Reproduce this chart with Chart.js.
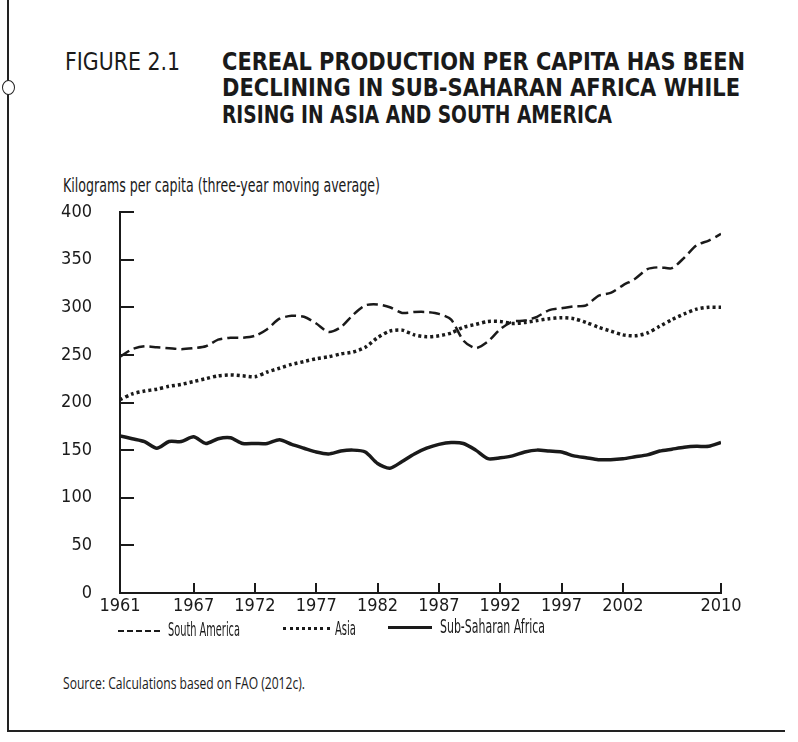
<!DOCTYPE html>
<html>
<head>
<meta charset="utf-8">
<script src="https://cdn.jsdelivr.net/npm/chart.js@4.4.1/dist/chart.umd.min.js"></script>
<style>
  html, body { margin: 0; padding: 0; background: #fff; }
  body { width: 798px; height: 742px; position: relative; overflow: hidden; color: #1a1a1a; }
  .t { position: absolute; white-space: nowrap; transform-origin: left center;
       font-family: 'Liberation Sans Narrow', 'DejaVu Sans Condensed', sans-serif; }
  .title { font-weight: bold; font-size: 25px; line-height: 28px; }
  .rule { position: absolute; background: #222; }
  .swatch { position: absolute; height: 0; }
  #wrap { position: absolute; left: 0; top: 200px; width: 798px; height: 423px; }
</style>
</head>
<body>
<div class="rule" style="left:7px; top:0; width:1.5px; height:732px;"></div>
<div class="rule" style="left:7px; top:730px; width:778px; height:1.5px;"></div>
<div style="position:absolute; left:2px; top:80px; width:11px; height:13px; border:1.5px solid #222; border-radius:50%; background:#fff;"></div>

<div class="t" data-w="115" style="left:65px; top:48px; font-size:24px; line-height:28px;">FIGURE 2.1</div>
<div class="t title" data-w="523" style="left:222px; top:48px;">CEREAL PRODUCTION PER CAPITA HAS BEEN</div>
<div class="t title" data-w="518" style="left:222px; top:74px;">DECLINING IN SUB-SAHARAN AFRICA WHILE</div>
<div class="t title" data-w="390" style="left:222px; top:101px;">RISING IN ASIA AND SOUTH AMERICA</div>

<div class="t" data-w="317" style="left:63px; top:172px; font-size:20px; line-height:26px;">Kilograms per capita (three-year moving average)</div>

<div id="wrap"><canvas id="chart" width="798" height="423"></canvas></div>

<div class="swatch" style="left:118px; top:630px; width:42px; border-top:2.5px dashed #1a1a1a;"></div>
<div class="t" data-w="72" style="left:168px; top:616px; font-size:20px; line-height:26px;">South America</div>
<div class="swatch" style="left:283px; top:627px; width:47px; border-top:3px dotted #1a1a1a;"></div>
<div class="t" data-w="21" style="left:335px; top:615px; font-size:20px; line-height:26px;">Asia</div>
<div class="swatch" style="left:388px; top:626px; width:44px; border-top:3.5px solid #1a1a1a;"></div>
<div class="t" data-w="105" style="left:440px; top:613px; font-size:20px; line-height:26px;">Sub-Saharan Africa</div>

<div class="t" data-w="242" style="left:63px; top:671px; font-size:17px; line-height:24px; font-family:'Open Sans','DejaVu Sans',sans-serif;">Source: Calculations based on FAO (2012c).</div>

<script>
// years on the x axis
const years = [1961, 1962, 1963, 1964, 1965, 1966, 1967, 1968, 1969, 1970,
  1971, 1972, 1973, 1974, 1975, 1976, 1977, 1978, 1979, 1980,
  1981, 1982, 1983, 1984, 1985, 1986, 1987, 1988, 1989, 1990,
  1991, 1992, 1993, 1994, 1995, 1996, 1997, 1998, 1999, 2000,
  2001, 2002, 2003, 2004, 2005, 2006, 2007, 2008, 2009, 2010];

// kilograms per capita, three-year moving average
const southAmerica = [248, 256, 259, 258, 257, 256, 257, 259, 266, 268,
  268, 270, 277, 288, 291, 290, 283, 274, 279, 292,
  302, 303, 300, 294, 295, 295, 293, 287, 265, 257,
  264, 277, 285, 286, 290, 297, 299, 301, 302, 312,
  315, 323, 330, 340, 342, 341, 352, 365, 370, 377];
const asia = [203, 209, 212, 214, 217, 219, 222, 225, 228, 229,
  228, 227, 232, 236, 240, 243, 246, 248, 251, 253,
  258, 268, 275, 276, 271, 269, 270, 273, 279, 282,
  285, 285, 283, 284, 286, 288, 289, 288, 284, 279,
  275, 271, 270, 273, 280, 287, 293, 298, 300, 300];
const subSaharanAfrica = [165, 162, 159, 152, 159, 159, 164, 157, 162, 163,
  157, 157, 157, 161, 156, 152, 148, 146, 149, 150,
  148, 136, 131, 138, 146, 152, 156, 158, 157, 150,
  141, 142, 144, 148, 150, 149, 148, 144, 142, 140,
  140, 141, 143, 145, 149, 151, 153, 154, 154, 158];

const xTickYears = [1961, 1967, 1972, 1977, 1982, 1987, 1992, 1997, 2002, 2010];
const yTickValues = [0, 50, 100, 150, 200, 250, 300, 350, 400];

// squeeze each text block to the width it has in the printed figure
document.querySelectorAll('.t[data-w]').forEach(el => {
  const w = el.getBoundingClientRect().width;
  el.style.transform = 'scaleX(' + (Number(el.dataset.w) / w) + ')';
});

const pts = vals => vals.map((v, i) => ({ x: years[i], y: v }));
const ink = '#1a1a1a';
const tickFont = { family: "'Liberation Sans Narrow', 'DejaVu Sans Condensed', sans-serif", size: 18 };

// short tick marks pointing into the plot, like the print
const innerTicks = {
  id: 'innerTicks',
  afterDraw(chart) {
    const { ctx, chartArea: a, scales: { x, y } } = chart;
    ctx.save();
    ctx.strokeStyle = ink;
    ctx.lineWidth = 2;
    ctx.beginPath();
    y.ticks.forEach(t => {
      if (t.value === 0) return;
      const py = Math.round(y.getPixelForValue(t.value));
      ctx.moveTo(a.left, py);
      ctx.lineTo(a.left + 14, py);
    });
    x.ticks.forEach(t => {
      if (t.value === xTickYears[0]) return;
      const px = Math.round(x.getPixelForValue(t.value));
      ctx.moveTo(px, a.bottom);
      ctx.lineTo(px, a.bottom - 10);
    });
    ctx.stroke();
    ctx.restore();
  }
};

new Chart(document.getElementById('chart'), {
  type: 'line',
  data: {
    datasets: [
      { label: 'South America', data: pts(southAmerica), borderColor: ink, borderWidth: 2.5,
        borderDash: [11, 5], tension: 0.25, pointRadius: 0, fill: false },
      { label: 'Asia', data: pts(asia), borderColor: ink, borderWidth: 3.5,
        borderDash: [3, 3], tension: 0.25, pointRadius: 0, fill: false },
      { label: 'Sub-Saharan Africa', data: pts(subSaharanAfrica), borderColor: ink, borderWidth: 3.5,
        tension: 0.25, pointRadius: 0, fill: false }
    ]
  },
  options: {
    responsive: false,
    devicePixelRatio: 1,
    animation: false,
    layout: { padding: { top: 12, left: 0, right: 77, bottom: 0 } },
    plugins: { legend: { display: false }, tooltip: { enabled: false } },
    scales: {
      x: {
        type: 'linear',
        min: years[0],
        max: years[years.length - 1],
        afterBuildTicks: s => { s.ticks = xTickYears.map(v => ({ value: v })); },
        afterFit: s => { s.height = 30; s.paddingLeft = 0; s.paddingRight = 0; },
        grid: { display: false, drawTicks: false },
        border: { display: true, color: ink, width: 2 },
        ticks: { color: ink, font: tickFont, padding: 3, maxRotation: 0, autoSkip: false,
          callback: v => String(v) }
      },
      y: {
        min: 0,
        max: 400,
        afterBuildTicks: s => { s.ticks = yTickValues.map(v => ({ value: v })); },
        // fixed width; drop the extra room Chart.js reserves for the tick padding
        afterFit: s => { s.width = 120; s.paddingTop = 0; s.paddingBottom = 0; },
        grid: { display: false, drawTicks: false },
        border: { display: true, color: ink, width: 2 },
        ticks: { color: ink, font: tickFont, padding: 28, callback: v => String(v) }
      }
    }
  },
  plugins: [innerTicks]
});
</script>
</body>
</html>
